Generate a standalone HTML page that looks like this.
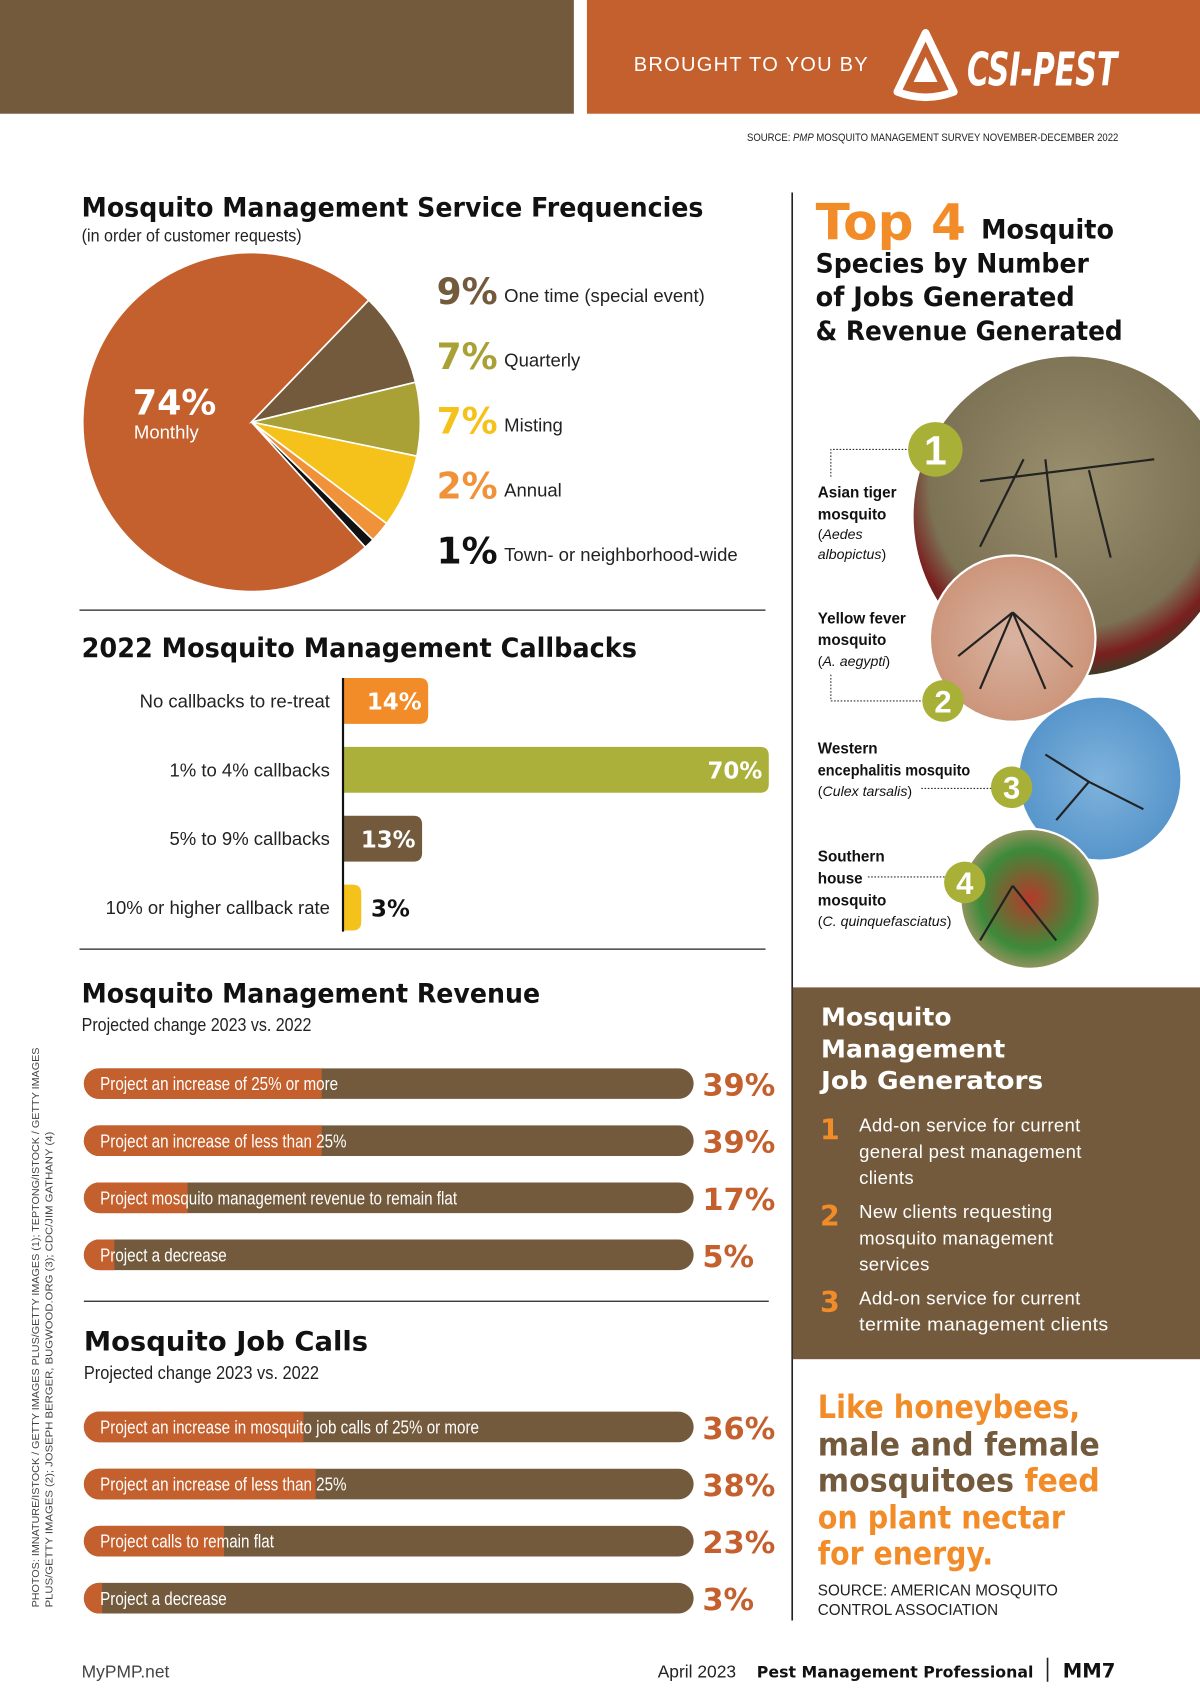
<!DOCTYPE html>
<html><head><meta charset="utf-8">
<style>
html,body{margin:0;padding:0;background:#fff;width:1200px;height:1708px;overflow:hidden}
svg{display:block}
.h{font-family:"DejaVu Sans","Liberation Sans",sans-serif;font-weight:bold}
.n{font-family:"Liberation Sans Narrow","Liberation Sans",sans-serif}
.s{font-family:"Liberation Sans",sans-serif}
</style></head>
<body>
<svg id="page" width="1200" height="1708" viewBox="0 0 1102 1562" preserveAspectRatio="none" xmlns="http://www.w3.org/2000/svg">
<defs>
<radialGradient id="g1" cx="0.5" cy="0.4" r="0.6"><stop offset="0" stop-color="#9a8f6e"/><stop offset="0.75" stop-color="#7c7254"/><stop offset="0.9" stop-color="#7a1f1f"/><stop offset="1" stop-color="#3f3a26"/></radialGradient>
<radialGradient id="g2" cx="0.5" cy="0.5" r="0.6"><stop offset="0" stop-color="#d9b3a0"/><stop offset="1" stop-color="#c98f73"/></radialGradient>
<radialGradient id="g3" cx="0.5" cy="0.5" r="0.6"><stop offset="0" stop-color="#7fb3dc"/><stop offset="1" stop-color="#4f8fc7"/></radialGradient>
<radialGradient id="g4" cx="0.5" cy="0.5" r="0.6"><stop offset="0" stop-color="#b53a2a"/><stop offset="0.6" stop-color="#3d8a3a"/><stop offset="1" stop-color="#d29a7a"/></radialGradient>
<clipPath id="pageclip"><rect x="0" y="0" width="1102" height="1562"/></clipPath>
</defs>

<rect x="0" y="0" width="527" height="104" fill="#735a3c"/>
<rect x="539" y="0" width="563" height="104" fill="#c4602d"/>
<text class="n" x="582" y="65" font-size="19" fill="#fff" letter-spacing="1.2" textLength="216" lengthAdjust="spacingAndGlyphs">BROUGHT TO YOU BY</text>
<g>
<path d="M850 30 L876 84 Q850 94 824 84 Z" fill="none" stroke="#fff" stroke-width="7" stroke-linejoin="round"/>
<path d="M850 52 L861 75 L839 75 Z" fill="#fff"/>
<text class="h" x="888" y="78" font-size="42" fill="#fff" font-style="italic" textLength="138" lengthAdjust="spacingAndGlyphs">CSI-PEST</text>
</g>
<text class="n" x="686" y="129" font-size="10.5" fill="#222" textLength="341" lengthAdjust="spacingAndGlyphs">SOURCE: <tspan font-style="italic">PMP</tspan> MOSQUITO MANAGEMENT SURVEY NOVEMBER-DECEMBER 2022</text>

<line x1="727.5" y1="176" x2="727.5" y2="1482" stroke="#222" stroke-width="1.5"/>

<text class="h" x="75" y="198" font-size="24" fill="#111" textLength="571" lengthAdjust="spacingAndGlyphs">Mosquito Management Service Frequencies</text>
<text class="n" x="75" y="221" font-size="16" fill="#222" textLength="202" lengthAdjust="spacingAndGlyphs">(in order of customer requests)</text>
<g id="pie"></g>
<text class="h" x="122" y="379" font-size="32" fill="#fff">74%</text>
<text class="s" x="123" y="401" font-size="17" fill="#fff">Monthly</text>
<g id="pielegend"></g>

<line x1="73" y1="558" x2="703" y2="558" stroke="#222" stroke-width="1.2"/>

<text class="h" x="75" y="601" font-size="24" fill="#111" textLength="510" lengthAdjust="spacingAndGlyphs">2022 Mosquito Management Callbacks</text>
<g id="callbacks"></g>

<line x1="73" y1="868" x2="703" y2="868" stroke="#222" stroke-width="1.2"/>

<text class="h" x="75" y="917" font-size="24" fill="#111" textLength="421" lengthAdjust="spacingAndGlyphs">Mosquito Management Revenue</text>
<text class="n" x="75" y="943" font-size="17" fill="#222" textLength="211" lengthAdjust="spacingAndGlyphs">Projected change 2023 vs. 2022</text>
<g id="revenue"></g>

<line x1="77" y1="1190" x2="706" y2="1190" stroke="#222" stroke-width="1.2"/>

<text class="h" x="77" y="1235" font-size="24" fill="#111" textLength="261" lengthAdjust="spacingAndGlyphs">Mosquito Job Calls</text>
<text class="n" x="77" y="1261" font-size="17" fill="#222" textLength="216" lengthAdjust="spacingAndGlyphs">Projected change 2023 vs. 2022</text>
<g id="jobcalls"></g>

<g transform="translate(36 1470) rotate(-90)">
<text class="s" x="0" y="0" font-size="9.5" fill="#444" textLength="512" lengthAdjust="spacingAndGlyphs">PHOTOS: IMNATURE/ISTOCK / GETTY IMAGES PLUS/GETTY IMAGES (1); TEPTONG/ISTOCK / GETTY IMAGES</text>
<text class="s" x="0" y="12" font-size="9.5" fill="#444" textLength="435" lengthAdjust="spacingAndGlyphs">PLUS/GETTY IMAGES (2); JOSEPH BERGER, BUGWOOD.ORG (3); CDC/JIM GATHANY (4)</text>
</g>

<g>
<text class="h" x="749" y="219" font-size="46" fill="#f28c28" textLength="138" lengthAdjust="spacingAndGlyphs">Top 4</text>
<text class="h" x="901" y="218" font-size="24" fill="#111" textLength="122" lengthAdjust="spacingAndGlyphs">Mosquito</text>
<text class="h" x="749" y="249" font-size="24" fill="#111" textLength="251" lengthAdjust="spacingAndGlyphs">Species by Number</text>
<text class="h" x="749" y="280" font-size="24" fill="#111" textLength="238" lengthAdjust="spacingAndGlyphs">of Jobs Generated</text>
<text class="h" x="749" y="311" font-size="24" fill="#111" textLength="282" lengthAdjust="spacingAndGlyphs">&amp; Revenue Generated</text>
</g>
<g clip-path="url(#pageclip)">
<circle cx="985" cy="472" r="146" fill="url(#g1)"/>
</g>
<circle cx="930" cy="584" r="76" fill="url(#g2)" stroke="#fff" stroke-width="2"/>
<circle cx="1010" cy="712" r="75" fill="url(#g3)" stroke="#fff" stroke-width="2"/>
<circle cx="946" cy="822" r="64" fill="url(#g4)" stroke="#fff" stroke-width="2"/>
<g stroke="#222" stroke-width="2" fill="none">
<path d="M900 440 L1060 420 M940 420 L900 500 M960 420 L970 510 M1000 430 L1020 510"/>
<path d="M930 560 L900 630 M930 560 L960 630 M930 560 L880 600 M930 560 L985 610"/>
<path d="M1000 715 L1050 740 M1000 715 L960 690 M1000 715 L970 750"/>
<path d="M930 810 L900 860 M930 810 L970 860"/>
</g>
<g stroke="#333" stroke-width="1" stroke-dasharray="1.5 1.5" fill="none">
<path d="M763 436 L763 411 L855 411"/>
<path d="M763 617 L763 641 L862 641"/>
<path d="M846 721 L925 721"/>
<path d="M797 802 L882 802"/>
</g>
<g id="badges"></g>
<g font-size="14" fill="#111">
<text class="n" font-weight="bold" x="751" y="455">Asian tiger</text>
<text class="n" font-weight="bold" x="751" y="475">mosquito</text>
<text class="s" x="751" y="493" font-size="13">(<tspan font-style="italic">Aedes</tspan></text>
<text class="s" x="751" y="511" font-size="13" font-style="italic">albopictus<tspan font-style="normal">)</tspan></text>
<text class="n" font-weight="bold" x="751" y="570">Yellow fever</text>
<text class="n" font-weight="bold" x="751" y="590">mosquito</text>
<text class="s" x="751" y="609" font-size="13">(<tspan font-style="italic">A. aegypti</tspan>)</text>
<text class="n" font-weight="bold" x="751" y="689">Western</text>
<text class="n" font-weight="bold" x="751" y="709" textLength="140" lengthAdjust="spacingAndGlyphs">encephalitis mosquito</text>
<text class="s" x="751" y="728" font-size="13">(<tspan font-style="italic">Culex tarsalis</tspan>)</text>
<text class="n" font-weight="bold" x="751" y="788">Southern</text>
<text class="n" font-weight="bold" x="751" y="808">house</text>
<text class="n" font-weight="bold" x="751" y="828">mosquito</text>
<text class="s" x="751" y="847" font-size="13">(<tspan font-style="italic">C. quinquefasciatus</tspan>)</text>
</g>

<rect x="728" y="903" width="374" height="340" fill="#735a3c"/>
<g class="h" font-size="23" fill="#fff">
<text x="754" y="938">Mosquito</text>
<text x="754" y="967">Management</text>
<text x="754" y="996" textLength="204" lengthAdjust="spacingAndGlyphs">Job Generators</text>
</g>
<g>
<text class="h" x="753" y="1042" font-size="26" fill="#f28c28">1</text>
<text class="h" x="753" y="1121" font-size="26" fill="#f28c28">2</text>
<text class="h" x="753" y="1200" font-size="26" fill="#f28c28">3</text>
<g class="s" font-size="17" fill="#fff" letter-spacing="0.3">
<text x="789" y="1035">Add-on service for current</text>
<text x="789" y="1059">general pest management</text>
<text x="789" y="1083">clients</text>
<text x="789" y="1114">New clients requesting</text>
<text x="789" y="1138">mosquito management</text>
<text x="789" y="1162">services</text>
<text x="789" y="1193">Add-on service for current</text>
<text x="789" y="1217" textLength="229" lengthAdjust="spacingAndGlyphs">termite management clients</text>
</g>
</g>

<g class="h" font-size="29">
<text x="751" y="1297" fill="#f28c28" textLength="241" lengthAdjust="spacingAndGlyphs">Like honeybees,</text>
<text x="751" y="1331" fill="#735a3c" textLength="259" lengthAdjust="spacingAndGlyphs">male and female</text>
<text x="751" y="1364" fill="#735a3c" textLength="259" lengthAdjust="spacingAndGlyphs">mosquitoes <tspan fill="#f28c28">feed</tspan></text>
<text x="751" y="1398" fill="#f28c28" textLength="227" lengthAdjust="spacingAndGlyphs">on plant nectar</text>
<text x="751" y="1431" fill="#f28c28" textLength="161" lengthAdjust="spacingAndGlyphs">for energy.</text>
</g>
<text class="s" x="751" y="1459" font-size="14" fill="#222">SOURCE: AMERICAN MOSQUITO</text>
<text class="s" x="751" y="1477" font-size="14" fill="#222">CONTROL ASSOCIATION</text>

<text class="s" x="75" y="1534" font-size="16" fill="#444">MyPMP.net</text>
<text class="s" x="604" y="1534" font-size="16" fill="#222">April 2023</text>
<text class="h" x="695" y="1534" font-size="15" fill="#111" textLength="254" lengthAdjust="spacingAndGlyphs">Pest Management Professional</text>
<line x1="962" y1="1516" x2="962" y2="1538" stroke="#222" stroke-width="1.5"/>
<text class="h" x="976" y="1534" font-size="18" fill="#111">MM7</text>
</svg>

<script>
var pieLabels = ["Monthly","One time (special event)","Quarterly","Misting","Annual","Town- or neighborhood-wide"];
var pieValues = [74, 9, 7, 7, 2, 1];
var pieColors = ["#c4602d","#735a3c","#a9a135","#f5c21b","#f0923a","#111111"];
var legendPct = ["9%","7%","7%","2%","1%"];

var callbackCats = ["No callbacks to re-treat","1% to 4% callbacks","5% to 9% callbacks","10% or higher callback rate"];
var callbackValues = [14, 70, 13, 3];
var callbackColors = ["#f28c28","#abb03a","#735a3c","#f5c21b"];

var revenueCats = ["Project an increase of 25% or more","Project an increase of less than 25%","Project mosquito management revenue to remain flat","Project a decrease"];
var revenueValues = [39, 39, 17, 5];

var jobCats = ["Project an increase in mosquito job calls of 25% or more","Project an increase of less than 25%","Project calls to remain flat","Project a decrease"];
var jobValues = [36, 38, 23, 3];

var NS = "http://www.w3.org/2000/svg";
function mk(tag, attrs, parent){var e=document.createElementNS(NS,tag);for(var k in attrs)e.setAttribute(k,attrs[k]);parent.appendChild(e);return e;}

(function(){
  var g=document.getElementById('pie');
  var cx=231, cy=386, r=155;
  var total=pieValues.reduce(function(a,b){return a+b;},0);
  var start=-46 - 360*pieValues[0]/total;
  var a0=start*Math.PI/180;
  for(var i=0;i<pieValues.length;i++){
    var sweep=2*Math.PI*pieValues[i]/total;
    var a1=a0+sweep;
    var x0=cx+r*Math.cos(a0), y0=cy+r*Math.sin(a0), x1=cx+r*Math.cos(a1), y1=cy+r*Math.sin(a1);
    var p=mk('path',{d:'M'+cx+' '+cy+' L'+x0+' '+y0+' A'+r+' '+r+' 0 '+(sweep>Math.PI?1:0)+' 1 '+x1+' '+y1+' Z',fill:pieColors[i],stroke:'#fff','stroke-width':1.5},g);
    
    
    a0=a1;
  }
  var lg=document.getElementById('pielegend');
  for(var j=1;j<pieLabels.length;j++){
    var y=278+(j-1)*59.3;
    var t=mk('text',{x:401,y:y,'font-size':33,fill:pieColors[j],'class':'h'},lg);
    t.textContent=legendPct[j-1];
    
    
    var l=mk('text',{x:463,y:y-2,'font-size':17,fill:'#222','class':'s'},lg);
    l.textContent=pieLabels[j];
    
    
  }
})();

(function(){
  var g=document.getElementById('callbacks');
  var x0=315, scale=391/70, top=620, step=63, h=42;
  for(var i=0;i<callbackValues.length;i++){
    var yc=641+i*step;
    var w=callbackValues[i]*scale;
    var b=mk('path',{d:'M'+x0+' '+(yc-h/2)+' H'+(x0+w-8)+' Q'+(x0+w)+' '+(yc-h/2)+' '+(x0+w)+' '+(yc-h/2+8)+' V'+(yc+h/2-8)+' Q'+(x0+w)+' '+(yc+h/2)+' '+(x0+w-8)+' '+(yc+h/2)+' H'+x0+' Z',fill:callbackColors[i]},g);
    
    
    var c=mk('text',{x:303,y:yc+6,'font-size':17,fill:'#222','text-anchor':'end','class':'s'},g);
    c.textContent=callbackCats[i];
    
    
    var inside=w>40;
    var v=mk('text',{x:inside?x0+w-6:x0+w+9,y:yc+8,'font-size':21,fill:inside?'#fff':'#111','text-anchor':inside?'end':'start','class':'h'},g);
    v.textContent=callbackValues[i]+'%';
    
    
  }
  var ax=mk('line',{x1:x0,y1:top,x2:x0,y2:852,stroke:'#111','stroke-width':2},g);
  
  
})();

function pills(id, cats, vals, y0, prefix){
  var g=document.getElementById(id);
  var x0=77, W=560, h=28, step=52.2;
  for(var i=0;i<vals.length;i++){
    var yc=y0+i*step;
    var track=mk('rect',{x:x0,y:yc-h/2,width:W,height:h,rx:h/2,fill:'#735a3c'},g);
    
    
    var w=vals[i]/100*W;
    var bar=mk('path',{d:'M'+(x0+h/2)+' '+(yc-h/2)+' H'+(x0+w)+' V'+(yc+h/2)+' H'+(x0+h/2)+' A'+h/2+' '+h/2+' 0 0 1 '+(x0+h/2)+' '+(yc-h/2)+' Z',fill:'#c4602d'},g);
    
    
    var t=mk('text',{x:0,y:0,'font-size':17,fill:'#fff','class':'n',transform:'translate(92 '+(yc+6)+') scale(0.82 1)'},g);
    t.textContent=cats[i];
    
    
    var v=mk('text',{x:645,y:yc+11,'font-size':28,fill:'#c4602d','class':'h'},g);
    v.textContent=vals[i]+'%';
    
    
  }
}
pills('revenue', revenueCats, revenueValues, 991, 'revenue');
pills('jobcalls', jobCats, jobValues, 1305, 'jobcalls');

(function(){
  var g=document.getElementById('badges');
  var bx=[859,866,929,886], by=[411,641,720,807], br=[25,19,19,19], num=["1","2","3","4"];
  for(var i=0;i<4;i++){
    var c=mk('circle',{cx:bx[i],cy:by[i],r:br[i],fill:'#a8b038'},g);
    
    
    var t=mk('text',{x:bx[i],y:by[i]+br[i]*0.55,'font-size':br[i]*1.5,fill:'#fff','text-anchor':'middle','class':'s','font-weight':'bold'},g);
    t.textContent=num[i];
    
    
  }
})();
</script>
</body></html>
